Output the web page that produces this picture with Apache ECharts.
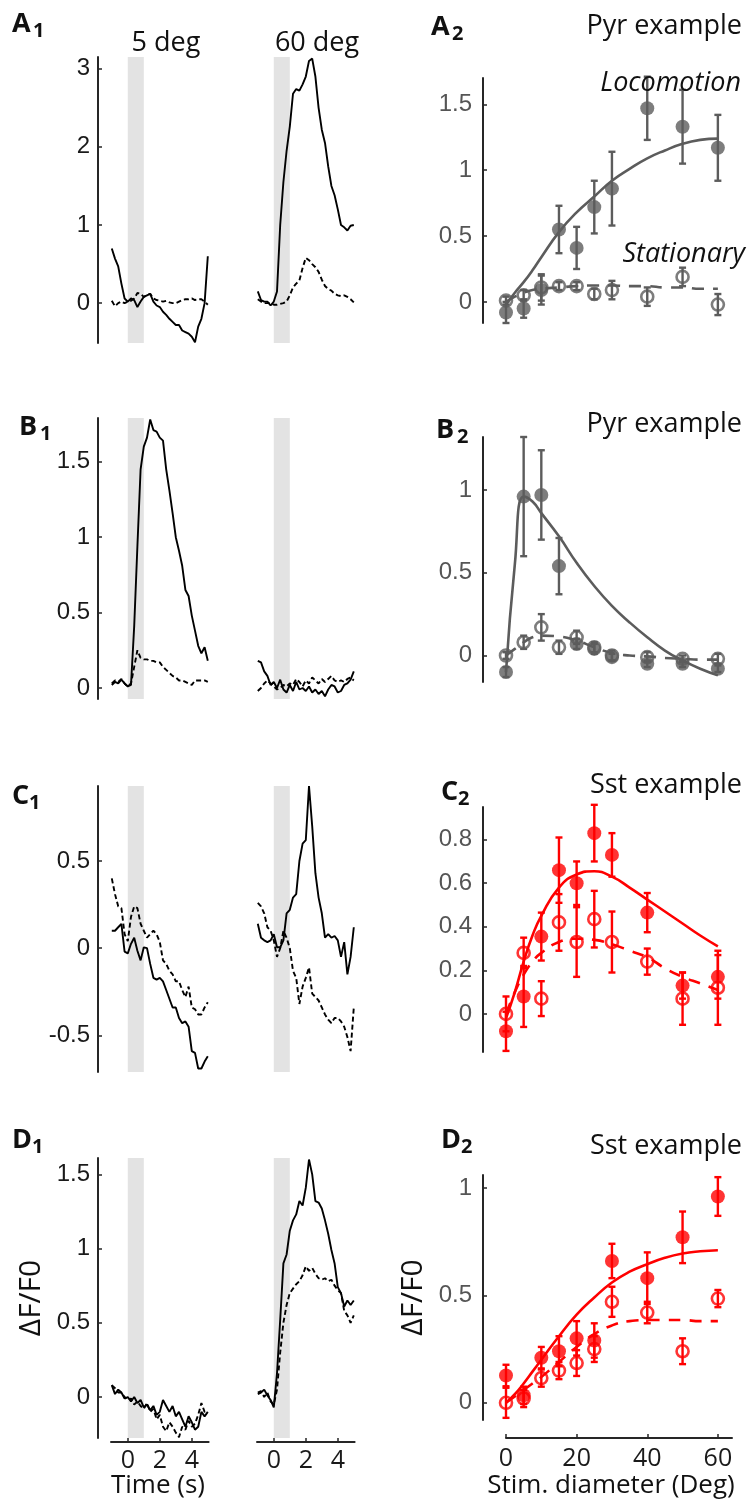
<!DOCTYPE html>
<html>
<head>
<meta charset="utf-8">
<script src="https://cdn.jsdelivr.net/npm/echarts@6/dist/echarts.min.js"></script>
<style>
  html, body { margin: 0; padding: 0; background: #fff; }
  #chart { width: 750px; height: 1502px; }
</style>
</head>
<body>
<div id="chart"></div>
<script>
// time base of the calcium traces (s), stimulus on 0..1 s
const TIME = [-1, -0.8, -0.6, -0.4, -0.2, 0, 0.2, 0.4, 0.6, 0.8, 1, 1.2, 1.4, 1.6, 1.8, 2, 2.2, 2.4, 2.6, 2.8, 3, 3.2, 3.4, 3.6, 3.8, 4, 4.2, 4.4, 4.6, 4.8, 5];
const TIME_TICKS = [0, 2, 4];

// traces: solid = locomotion, dashed = stationary; 5 deg and 60 deg stimuli
const a1Loco5  = [0.70, 0.57, 0.47, 0.25, 0.06, 0.02, 0.06, 0.04, -0.05, 0.02, 0.08, 0.10, 0.12, 0.02, -0.03, -0.05, -0.11, -0.15, -0.20, -0.24, -0.28, -0.28, -0.35, -0.37, -0.39, -0.43, -0.50, -0.30, -0.20, 0.00, 0.60];
const a1Stat5  = [0.03, -0.04, 0.00, 0.02, 0.00, 0.02, 0.03, 0.06, 0.13, 0.12, 0.08, 0.10, 0.12, 0.06, 0.04, 0.03, 0.02, 0.03, 0.01, 0.00, 0.00, 0.02, 0.04, 0.05, 0.05, 0.06, 0.04, 0.05, 0.05, 0.02, -0.02];
const a1Loco60 = [0.15, 0.04, 0.02, 0.02, -0.03, 0.02, 0.15, 1.00, 1.55, 1.95, 2.26, 2.68, 2.74, 2.72, 2.80, 2.90, 3.10, 3.13, 2.90, 2.50, 2.22, 2.05, 1.75, 1.50, 1.38, 1.20, 1.00, 0.97, 0.93, 0.99, 1.00];
const a1Stat60 = [0.05, 0.02, 0.00, 0.00, 0.00, -0.02, -0.02, -0.01, 0.00, 0.02, 0.10, 0.20, 0.25, 0.29, 0.45, 0.58, 0.55, 0.50, 0.46, 0.40, 0.30, 0.22, 0.18, 0.16, 0.12, 0.10, 0.09, 0.10, 0.08, 0.05, 0.01];

const b1Loco5  = [0.02, 0.04, 0.03, 0.055, 0.03, 0.01, 0.02, 0.41, 0.94, 1.45, 1.60, 1.66, 1.78, 1.71, 1.70, 1.66, 1.64, 1.45, 1.31, 1.16, 1.00, 0.91, 0.81, 0.65, 0.61, 0.48, 0.38, 0.28, 0.23, 0.27, 0.18];
const b1Stat5  = [0.03, 0.05, 0.04, 0.06, 0.03, 0.01, 0.03, 0.14, 0.25, 0.20, 0.19, 0.19, 0.18, 0.18, 0.17, 0.17, 0.14, 0.12, 0.10, 0.08, 0.07, 0.05, 0.05, 0.04, 0.03, 0.02, 0.05, 0.05, 0.05, 0.05, 0.04];
const b1Loco60 = [0.18, 0.17, 0.11, 0.08, 0.02, 0.04, 0.00, 0.055, -0.01, -0.03, 0.02, -0.02, 0.04, -0.01, 0.00, -0.02, 0.01, -0.03, -0.01, -0.04, -0.02, -0.055, -0.01, 0.02, 0.01, -0.03, -0.02, 0.02, 0.03, 0.055, 0.11];
const b1Stat60 = [-0.02, 0.00, 0.03, 0.05, 0.03, 0.01, -0.01, 0.00, 0.02, 0.01, 0.03, 0.02, 0.06, 0.04, 0.01, 0.05, 0.03, 0.07, 0.05, 0.03, 0.06, 0.04, 0.06, 0.08, 0.05, 0.04, 0.05, 0.04, 0.06, 0.07, 0.05];

const c1Loco5  = [0.10, 0.10, 0.12, 0.14, -0.02, -0.03, 0.025, 0.06, -0.015, -0.07, 0.005, 0.00, -0.09, -0.17, -0.18, -0.17, -0.19, -0.24, -0.29, -0.34, -0.34, -0.40, -0.43, -0.42, -0.45, -0.59, -0.60, -0.69, -0.69, -0.65, -0.62];
const c1Stat5  = [0.40, 0.31, 0.24, 0.23, 0.08, 0.04, 0.18, 0.24, 0.23, 0.14, 0.10, 0.06, 0.08, 0.10, 0.08, 0.035, -0.07, -0.09, -0.13, -0.15, -0.19, -0.19, -0.24, -0.28, -0.22, -0.34, -0.35, -0.38, -0.38, -0.34, -0.31];
const c1Loco60 = [0.14, 0.06, 0.045, 0.035, 0.045, 0.08, 0.005, 0.005, 0.045, 0.20, 0.22, 0.29, 0.31, 0.50, 0.60, 0.62, 0.93, 0.70, 0.43, 0.29, 0.20, 0.06, 0.08, 0.06, 0.07, 0.045, -0.05, 0.035, -0.15, -0.05, 0.12];
const c1Stat60 = [0.26, 0.24, 0.20, 0.12, 0.10, 0.045, -0.05, 0.00, 0.10, 0.06, 0.00, -0.13, -0.17, -0.32, -0.22, -0.17, -0.11, -0.26, -0.28, -0.30, -0.34, -0.38, -0.41, -0.43, -0.40, -0.40, -0.42, -0.45, -0.51, -0.59, -0.34];

const d1Loco5  = [0.08, 0.02, 0.05, 0.03, -0.01, 0.00, -0.03, 0.00, -0.04, -0.02, -0.07, -0.05, -0.09, -0.06, -0.12, -0.10, -0.02, -0.06, -0.10, -0.06, -0.13, -0.10, -0.15, -0.20, -0.13, -0.17, -0.22, -0.20, -0.10, -0.13, -0.10];
const d1Stat5  = [0.08, 0.06, 0.03, 0.03, 0.00, -0.02, -0.01, -0.05, -0.03, -0.06, -0.08, -0.04, -0.10, -0.08, -0.15, -0.12, -0.20, -0.23, -0.17, -0.20, -0.24, -0.27, -0.20, -0.22, -0.16, -0.20, -0.18, -0.12, -0.04, -0.10, -0.10];
const d1Loco60 = [0.02, 0.03, 0.05, 0.01, -0.02, -0.07, 0.16, 0.52, 0.90, 0.96, 1.12, 1.19, 1.23, 1.32, 1.29, 1.41, 1.60, 1.50, 1.32, 1.31, 1.27, 1.19, 1.10, 0.99, 0.90, 0.74, 0.70, 0.61, 0.65, 0.62, 0.65];
const d1Stat60 = [0.03, 0.04, 0.00, 0.03, -0.03, -0.05, 0.05, 0.30, 0.50, 0.62, 0.70, 0.73, 0.76, 0.78, 0.82, 0.88, 0.85, 0.87, 0.83, 0.80, 0.79, 0.80, 0.78, 0.79, 0.75, 0.72, 0.70, 0.58, 0.55, 0.50, 0.55];

const TRACE_YLIM = [[-0.51, 3.15], [-0.073, 1.79], [-0.71, 0.93], [-0.276, 1.61]];
const TRACE_YTICKS = [[0, 1, 2, 3], [0, 0.5, 1, 1.5], [-0.5, 0, 0.5], [0, 0.5, 1, 1.5]];

// size tuning: stimulus diameter (deg)
const DIAM = [0, 5, 10, 15, 20, 25, 30, 40, 50, 60];
const DIAM_TICKS = [0, 20, 40, 60];
const FIT_X = [0, 2.5, 5, 7.5, 10, 15, 20, 25, 30, 35, 40, 45, 50, 55, 60];

const a2LocoMean = [-0.08, -0.05, 0.09, 0.55, 0.41, 0.72, 0.86, 1.47, 1.33, 1.17];
const a2LocoErr  = [0.08, 0.07, 0.11, 0.18, 0.16, 0.20, 0.28, 0.24, 0.28, 0.25];
const a2StatMean = [0.01, 0.05, 0.11, 0.12, 0.12, 0.06, 0.09, 0.04, 0.19, -0.02];
const a2StatErr  = [0.03, 0.04, 0.10, 0.03, 0.03, 0.04, 0.07, 0.07, 0.07, 0.08];
const a2LocoFit  = [-0.02, 0.07, 0.15, 0.24, 0.34, 0.53, 0.68, 0.80, 0.92, 1.01, 1.09, 1.15, 1.20, 1.23, 1.24];
const a2StatFit  = [0.00, 0.04, 0.07, 0.09, 0.10, 0.11, 0.12, 0.125, 0.125, 0.12, 0.12, 0.11, 0.11, 0.10, 0.10];

const b2LocoMean = [-0.10, 0.96, 0.97, 0.54, 0.07, 0.04, -0.01, -0.05, -0.05, -0.08];
const b2LocoErr  = [0.03, 0.36, 0.27, 0.17, 0.03, 0.03, 0.02, 0.02, 0.02, 0.02];
const b2StatMean = [0.00, 0.08, 0.17, 0.05, 0.11, 0.05, 0.00, -0.01, -0.02, -0.02];
const b2StatErr  = [0.02, 0.04, 0.08, 0.04, 0.04, 0.03, 0.03, 0.03, 0.02, 0.03];
const b2LocoFit  = [-0.10, 0.55, 0.96, 0.93, 0.86, 0.72, 0.56, 0.42, 0.30, 0.20, 0.11, 0.03, -0.03, -0.08, -0.12];
const b2StatFit  = [0.00, 0.04, 0.08, 0.11, 0.12, 0.115, 0.09, 0.05, 0.015, 0.00, -0.005, -0.015, -0.02, -0.025, -0.025];

const c2LocoMean = [-0.08, 0.08, 0.355, 0.66, 0.60, 0.83, 0.73, 0.465, 0.13, 0.17];
const c2LocoErr  = [0.09, 0.14, 0.11, 0.15, 0.10, 0.13, 0.10, 0.09, 0.06, 0.10];
const c2StatMean = [0.00, 0.28, 0.07, 0.42, 0.33, 0.435, 0.33, 0.24, 0.07, 0.12];
const c2StatErr  = [0.08, 0.07, 0.08, 0.13, 0.16, 0.13, 0.14, 0.06, 0.12, 0.17];
const c2LocoFit  = [-0.02, 0.10, 0.24, 0.36, 0.45, 0.58, 0.64, 0.655, 0.63, 0.58, 0.525, 0.47, 0.415, 0.36, 0.31];
const c2StatFit  = [0.00, 0.10, 0.18, 0.24, 0.28, 0.33, 0.345, 0.34, 0.32, 0.29, 0.26, 0.21, 0.17, 0.14, 0.11];

const d2LocoMean = [0.127, 0.035, 0.21, 0.24, 0.30, 0.29, 0.66, 0.58, 0.77, 0.96];
const d2LocoErr  = [0.05, 0.04, 0.05, 0.07, 0.08, 0.08, 0.08, 0.12, 0.12, 0.09];
const d2StatMean = [0.00, 0.02, 0.115, 0.15, 0.185, 0.25, 0.47, 0.42, 0.24, 0.485];
const d2StatErr  = [0.07, 0.04, 0.04, 0.04, 0.06, 0.06, 0.07, 0.05, 0.06, 0.04];
const d2LocoFit  = [0.00, 0.04, 0.09, 0.145, 0.20, 0.31, 0.41, 0.49, 0.56, 0.61, 0.645, 0.675, 0.695, 0.705, 0.71];
const d2StatFit  = [0.00, 0.03, 0.06, 0.09, 0.12, 0.19, 0.26, 0.32, 0.36, 0.38, 0.385, 0.385, 0.385, 0.38, 0.38];

const TUNE_YLIM = [[-0.16, 1.70], [-0.16, 1.32], [-0.175, 0.95], [-0.08, 1.06]];
const TUNE_YTICKS = [[0, 0.5, 1, 1.5], [0, 0.5, 1], [0, 0.2, 0.4, 0.6, 0.8], [0, 0.5, 1]];

const TRACES = [
  [a1Loco5, a1Stat5, a1Loco60, a1Stat60],
  [b1Loco5, b1Stat5, b1Loco60, b1Stat60],
  [c1Loco5, c1Stat5, c1Loco60, c1Stat60],
  [d1Loco5, d1Stat5, d1Loco60, d1Stat60]
];
const TUNING = [
  {locoMean: a2LocoMean, locoErr: a2LocoErr, statMean: a2StatMean, statErr: a2StatErr, locoFit: a2LocoFit, statFit: a2StatFit},
  {locoMean: b2LocoMean, locoErr: b2LocoErr, statMean: b2StatMean, statErr: b2StatErr, locoFit: b2LocoFit, statFit: b2StatFit},
  {locoMean: c2LocoMean, locoErr: c2LocoErr, statMean: c2StatMean, statErr: c2StatErr, locoFit: c2LocoFit, statFit: c2StatFit},
  {locoMean: d2LocoMean, locoErr: d2LocoErr, statMean: d2StatMean, statErr: d2StatErr, locoFit: d2LocoFit, statFit: d2StatFit}
];
const TUNE_COLOR = ['#5c5c5c', '#5c5c5c', '#ff0000', '#ff0000'];

// layout (px)
const ROWS = [
  {top: 57, bottom: 343, rtop: 78, rbottom: 323},
  {top: 418, bottom: 699, rtop: 437, rbottom: 682},
  {top: 786, bottom: 1072, rtop: 807, rbottom: 1052},
  {top: 1158, bottom: 1438, rtop: 1175, rbottom: 1420}
];
const COLS = [{left: 111, width: 97.6}, {left: 257, width: 97.6}];
const RIGHT = {left: 506, width: 226};
const AX = '#262626';
const TICK_FONT = 'Liberation Sans, Arial, sans-serif';
const TEXT_FONT = 'Open Sans, sans-serif';
const YNAME = '\u0394F/F0';

const grid = [], xAxis = [], yAxis = [], series = [];

function errorBars(gi, mean, err, color) {
  return {
    type: 'custom', xAxisIndex: gi, yAxisIndex: gi, clip: false, silent: true, z: 3,
    data: DIAM.map((d, k) => [d, mean[k], err[k]]),
    encode: {x: 0, y: 1},
    renderItem(params, api) {
      const x = api.value(0), y = api.value(1), e = api.value(2);
      const hi = api.coord([x, y + e]), lo = api.coord([x, y - e]);
      const c = 3.5;
      const style = {stroke: color, lineWidth: 2.4};
      return {type: 'group', children: [
        {type: 'line', shape: {x1: hi[0], y1: hi[1], x2: lo[0], y2: lo[1]}, style},
        {type: 'line', shape: {x1: hi[0] - c, y1: hi[1], x2: hi[0] + c, y2: hi[1]}, style},
        {type: 'line', shape: {x1: lo[0] - c, y1: lo[1], x2: lo[0] + c, y2: lo[1]}, style}
      ]};
    }
  };
}

function yName(show, gap) {
  if (!show) return {};
  return {
    name: YNAME, nameLocation: 'middle', nameRotate: 90, nameGap: gap,
    nameTextStyle: {fontFamily: TEXT_FONT, fontSize: 30, color: '#111'}
  };
}

ROWS.forEach((r, i) => {
  const last = i === ROWS.length - 1;
  // two trace panels
  COLS.forEach((c, j) => {
    const gi = grid.length;
    grid.push({left: c.left, width: c.width, top: r.top, height: r.bottom - r.top, outerBoundsMode: 'none'});
    xAxis.push({
      gridIndex: gi, type: 'value', min: -1.05, max: 5.05, show: last, position: 'bottom', offset: 4,
      axisLine: {onZero: false, lineStyle: {color: AX, width: 2}},
      axisTick: {inside: true, length: 4, customValues: TIME_TICKS, lineStyle: {color: AX, width: 1.5}},
      axisLabel: {customValues: TIME_TICKS, fontFamily: TEXT_FONT, fontSize: 25, color: '#1a1a1a', margin: 6},
      splitLine: {show: false}
    });
    yAxis.push(Object.assign({
      gridIndex: gi, type: 'value', min: TRACE_YLIM[i][0], max: TRACE_YLIM[i][1], show: j === 0,
      position: 'left', offset: 13,
      axisLine: {show: true, onZero: false, lineStyle: {color: AX, width: 2}},
      axisTick: {show: true, inside: true, length: 4, customValues: TRACE_YTICKS[i], lineStyle: {color: AX, width: 1.5}},
      axisLabel: {customValues: TRACE_YTICKS[i], fontFamily: TICK_FONT, fontSize: 24, color: '#1a1a1a', margin: 8,
        formatter: v => String(v)},
      splitLine: {show: false}
    }, yName(last && j === 0, 52)));
    const solid = TRACES[i][j * 2], dashed = TRACES[i][j * 2 + 1];
    series.push({
      type: 'line', xAxisIndex: gi, yAxisIndex: gi, showSymbol: false, silent: true, z: 3,
      data: TIME.map((t, k) => [t, solid[k]]),
      lineStyle: {color: '#000', width: 1.9},
      markArea: {silent: true, itemStyle: {color: '#e3e3e3'}, data: [[{xAxis: 0}, {xAxis: 1}]]}
    });
    series.push({
      type: 'line', xAxisIndex: gi, yAxisIndex: gi, showSymbol: false, silent: true, z: 3,
      data: TIME.map((t, k) => [t, dashed[k]]),
      lineStyle: {color: '#000', width: 1.9, type: [5, 3]}
    });
  });

  // tuning panel
  const gi = grid.length;
  const col = TUNE_COLOR[i];
  const T = TUNING[i];
  grid.push({left: RIGHT.left, width: RIGHT.width, top: r.rtop, height: r.rbottom - r.rtop, outerBoundsMode: 'none'});
  xAxis.push({
    gridIndex: gi, type: 'value', min: 0, max: 64, show: last, position: 'bottom', offset: 18,
    axisLine: {onZero: false, lineStyle: {color: AX, width: 2}},
    axisTick: {inside: true, length: 4, customValues: DIAM_TICKS, lineStyle: {color: AX, width: 1.5}},
    axisLabel: {customValues: DIAM_TICKS, fontFamily: TEXT_FONT, fontSize: 25, color: '#1a1a1a', margin: 8},
    splitLine: {show: false}
  });
  yAxis.push(Object.assign({
    gridIndex: gi, type: 'value', min: TUNE_YLIM[i][0], max: TUNE_YLIM[i][1], position: 'left', offset: 23,
    axisLine: {show: true, onZero: false, lineStyle: {color: AX, width: 2}},
    axisTick: {show: true, inside: true, length: 4, customValues: TUNE_YTICKS[i], lineStyle: {color: AX, width: 1.5}},
    axisLabel: {customValues: TUNE_YTICKS[i], fontFamily: TICK_FONT, fontSize: 24, color: '#555', margin: 11,
      formatter: v => String(v)},
    splitLine: {show: false}
  }, yName(last, 55)));
  series.push({
    type: 'line', xAxisIndex: gi, yAxisIndex: gi, smooth: true, showSymbol: false, silent: true, z: 2,
    data: FIT_X.map((x, k) => [x, T.locoFit[k]]),
    lineStyle: {color: col, width: 2.6}
  });
  series.push({
    type: 'line', xAxisIndex: gi, yAxisIndex: gi, smooth: true, showSymbol: false, silent: true, z: 2,
    data: FIT_X.map((x, k) => [x, T.statFit[k]]),
    lineStyle: {color: col, width: 2.6, type: [12, 9]}
  });
  series.push(errorBars(gi, T.locoMean, T.locoErr, col));
  series.push(errorBars(gi, T.statMean, T.statErr, col));
  series.push({
    type: 'scatter', xAxisIndex: gi, yAxisIndex: gi, clip: false, silent: true, z: 4,
    symbol: 'circle', symbolSize: 14,
    data: DIAM.map((d, k) => [d, T.locoMean[k]]),
    itemStyle: {color: col}
  });
  series.push({
    type: 'scatter', xAxisIndex: gi, yAxisIndex: gi, clip: false, silent: true, z: 5,
    symbol: 'circle', symbolSize: 12,
    data: DIAM.map((d, k) => [d, T.statMean[k]]),
    itemStyle: {color: 'rgba(255,255,255,0)', borderColor: col, borderWidth: 2.6}
  });
});

function txt(text, x, y, opts) {
  const o = Object.assign({size: 27, weight: 'normal', style: 'normal', align: 'left', family: TEXT_FONT, color: '#111'}, opts || {});
  return {
    type: 'text', x: x, y: y, silent: true, z: 10,
    style: {
      text: text, fill: o.color, fontSize: o.size, fontWeight: o.weight, fontStyle: o.style, fontFamily: o.family,
      align: o.align, verticalAlign: 'middle', textAlign: o.align, textVerticalAlign: 'middle'
    }
  };
}
function panelLabel(letter, sub, x, y) {
  return [
    txt(letter, x, y, {size: 27, weight: 'bold'}),
    txt(sub, x + (letter === 'D' ? 20 : letter === 'C' ? 17 : 21), y + 7, {size: 20, weight: 'bold'})
  ];
}

const graphics = [].concat(
  panelLabel('A', '1', 12, 24), panelLabel('A', '2', 431, 27),
  panelLabel('B', '1', 19, 427), panelLabel('B', '2', 436, 430),
  panelLabel('C', '1', 12, 796), panelLabel('C', '2', 441, 792),
  panelLabel('D', '1', 12, 1140), panelLabel('D', '2', 441, 1140),
  [
    txt('5 deg', 166, 43, {align: 'center'}),
    txt('60 deg', 317, 43, {align: 'center'}),
    txt('Pyr example', 742, 26, {align: 'right'}),
    txt('Locomotion', 741, 83, {align: 'right', style: 'italic'}),
    txt('Stationary', 745, 254, {align: 'right', style: 'italic'}),
    txt('Pyr example', 742, 424, {align: 'right'}),
    txt('Sst example', 742, 785, {align: 'right'}),
    txt('Sst example', 742, 1146, {align: 'right'}),
    txt('Time (s)', 158, 1486, {align: 'center', size: 26}),
    txt('Stim. diameter (Deg)', 611, 1486, {align: 'center', size: 26})
  ]
);

const chart = echarts.init(document.getElementById('chart'), null, {renderer: 'canvas'});
chart.setOption({
  animation: false,
  backgroundColor: '#fff',
  grid: grid,
  xAxis: xAxis,
  yAxis: yAxis,
  series: series,
  graphic: {elements: graphics}
});
</script>
</body>
</html>
